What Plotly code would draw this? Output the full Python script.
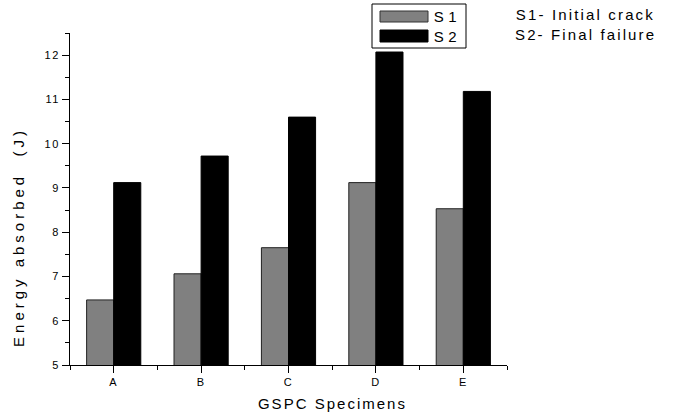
import plotly.graph_objects as go

specimens = ["A", "B", "C", "D", "E"]
s1_initial_crack = [6.47, 7.06, 7.65, 9.12, 8.53]
s2_final_failure = [9.12, 9.72, 10.6, 12.07, 11.18]
y_ticks = [5, 6, 7, 8, 9, 10, 11, 12]

FONT = "Arial, Liberation Sans, sans-serif"
xpos = list(range(len(specimens)))

W, H = 673, 415
ML, MR, MT, MB = 70, 166, 33, 50

fig = go.Figure()
fig.add_bar(x=xpos, y=s1_initial_crack, name="S1", base=0,
            marker=dict(color="#808080", line=dict(color="#222222", width=1)))
fig.add_bar(x=xpos, y=s2_final_failure, name="S2", base=0,
            marker=dict(color="#000000", line=dict(color="#000000", width=1)))

fig.update_layout(
    width=W, height=H,
    margin=dict(l=ML, r=MR, t=MT, b=MB, autoexpand=False),
    paper_bgcolor="white", plot_bgcolor="white",
    barmode="group", bargap=0.38, bargroupgap=0,
    showlegend=False,
    font=dict(family=FONT, color="black"),
)

fig.update_xaxes(
    range=[-0.5, 4.5], automargin=False,
    tickvals=xpos, ticktext=specimens,
    ticks="outside", ticklen=7, tickwidth=1, tickcolor="black",
    minor=dict(tickvals=[-0.5, 0.5, 1.5, 2.5, 3.5, 4.5], ticks="outside",
               ticklen=4, tickcolor="black", tickwidth=1),
    showline=True, linecolor="black", linewidth=1,
    showgrid=False, zeroline=False,
    tickfont=dict(size=11, family=FONT),
)

fig.update_yaxes(
    range=[5, 12.5], automargin=False,
    tickvals=y_ticks,
    ticks="outside", ticklen=7, tickwidth=1, tickcolor="black",
    minor=dict(dtick=0.5, tick0=5, ticks="outside", ticklen=4,
               tickcolor="black", tickwidth=1),
    showline=True, linecolor="black", linewidth=1,
    showgrid=False, zeroline=False,
    tickfont=dict(size=11, family=FONT),
)

# Pixel positions converted to paper coordinates
plot_w = W - ML - MR
plot_h = H - MT - MB


def px(xp):
    return (xp - ML) / plot_w


def py(yp):
    return (H - MB - yp) / plot_h


# Axis titles
fig.add_annotation(x=px(331), y=py(404), xref="paper", yref="paper",
                   text="GSPC Specimens", showarrow=False,
                   xanchor="center", yanchor="middle",
                   font=dict(size=15, family=FONT, color="black"))
fig.add_annotation(x=px(19), y=py(239), xref="paper", yref="paper",
                   text="Energy absorbed  (J)", showarrow=False, textangle=-90,
                   xanchor="center", yanchor="middle",
                   font=dict(size=15, family=FONT, color="black"))

# Legend box
fig.add_shape(type="rect", xref="paper", yref="paper",
              x0=px(372), x1=px(466), y0=py(48), y1=py(4),
              line=dict(color="black", width=1), fillcolor="white")
fig.add_shape(type="rect", xref="paper", yref="paper",
              x0=px(380), x1=px(428), y0=py(22), y1=py(11),
              line=dict(color="#333333", width=1), fillcolor="#808080")
fig.add_shape(type="rect", xref="paper", yref="paper",
              x0=px(380), x1=px(428), y0=py(42), y1=py(30),
              line=dict(color="black", width=1), fillcolor="black")
for label, yc in (("S1", 16), ("S2", 36)):
    fig.add_annotation(x=px(445), y=py(yc), xref="paper", yref="paper",
                       text=label, showarrow=False, xanchor="center", yanchor="middle",
                       font=dict(size=15, family=FONT, color="black"))

for label, yc in (("S1- Initial crack", 15), ("S2- Final failure", 34)):
    fig.add_annotation(x=px(584), y=py(yc), xref="paper", yref="paper",
                       text=label, showarrow=False, xanchor="center", yanchor="middle",
                       font=dict(size=15, family=FONT, color="black"))

# Stretch the text runs to the wide, spaced-out lettering of the figure
post = """
var gd = document.getElementById('{plot_id}');
gd.querySelectorAll('.xtick text, .ytick text').forEach(function (t) {
  t.style.letterSpacing = '1.5px';
});
var lengths = {
  'GSPC Specimens': 147,
  'Energy absorbed (J)': 216,
  'S1- Initial crack': 137,
  'S2- Final failure': 139,
  'S1': 23,
  'S2': 23
};
gd.querySelectorAll('text.annotation-text').forEach(function (t) {
  var key = t.textContent.replace(/\\s+/g, ' ').trim();
  if (lengths[key]) {
    t.setAttribute('textLength', lengths[key]);
    t.setAttribute('lengthAdjust', 'spacing');
  }
});
"""

fig.write_html("out.html", post_script=post)
